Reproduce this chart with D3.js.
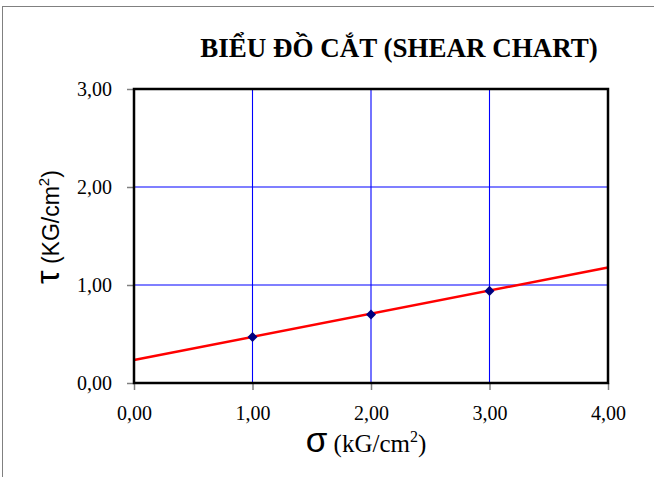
<!DOCTYPE html>
<html>
<head>
<meta charset="utf-8">
<script src="https://cdn.jsdelivr.net/npm/d3@7"></script>
<style>
  html, body { margin: 0; padding: 0; background: #fff; }
  svg { display: block; }
</style>
</head>
<body>
<svg id="chart" width="654" height="477"></svg>
<script>
// Shear test results: normal stress σ vs shear stress τ
const sigma = [1.0, 2.0, 3.0];
const tau = [0.47, 0.70, 0.94];
// Fitted Coulomb envelope τ = c + σ·tanφ
const cohesion = 0.235;
const tanPhi = 0.236;
const xTicks = [0, 1, 2, 3, 4];
const yTicks = [0, 1, 2, 3];

const svg = d3.select("#chart");
const m = { left: 134, right: 608, top: 89, bottom: 383 };

const x = d3.scaleLinear().domain([0, 4]).range([m.left, m.right]);
const y = d3.scaleLinear().domain([0, 3]).range([m.bottom, m.top]);
const fmt = d => d3.format(".2f")(d).replace(".", ",");
const SERIF = "'Liberation Serif', 'Times New Roman', serif";
const SANS = "'Liberation Sans', Arial, sans-serif";

// Outer chart frame
svg.append("rect")
  .attr("x", 2.5).attr("y", 6.5)
  .attr("width", 700).attr("height", 700)
  .attr("fill", "#fff").attr("stroke", "#808080").attr("stroke-width", 1);

// Title
svg.append("text")
  .attr("x", 399).attr("y", 57)
  .attr("text-anchor", "middle")
  .attr("font-family", SERIF)
  .attr("font-weight", "bold").attr("font-size", 27)
  .text("BIỂU ĐỒ CẮT (SHEAR CHART)");

// Grid lines
const grid = svg.append("g");
grid.selectAll("line.gx").data(xTicks.filter(d => d > 0 && d < 4)).join("line")
  .attr("class", "gx")
  .attr("x1", d => x(d)).attr("x2", d => x(d))
  .attr("y1", m.top).attr("y2", m.bottom)
  .attr("stroke", "#0000ff").attr("stroke-width", 1.1);
grid.selectAll("line.gy").data(yTicks.filter(d => d > 0 && d < 3)).join("line")
  .attr("class", "gy")
  .attr("x1", m.left).attr("x2", m.right)
  .attr("y1", d => y(d)).attr("y2", d => y(d))
  .attr("stroke", "#0000ff").attr("stroke-width", 1.1);

// Axes
const xAxis = svg.append("g")
  .attr("transform", `translate(0,${m.bottom})`)
  .call(d3.axisBottom(x).tickValues(xTicks).tickFormat(fmt).tickSize(7).tickSizeOuter(0));
const yAxis = svg.append("g")
  .attr("transform", `translate(${m.left},0)`)
  .call(d3.axisLeft(y).tickValues(yTicks).tickFormat(fmt).tickSize(7).tickSizeOuter(0));
[xAxis, yAxis].forEach(a => {
  a.attr("font-family", SERIF).attr("font-size", 20);
  a.select(".domain").remove();
  a.selectAll(".tick line").attr("stroke", "#808080").attr("stroke-width", 1.5);
  a.selectAll(".tick text").attr("fill", "#000");
});
xAxis.selectAll(".tick text").attr("y", 23).attr("dy", "0.71em");
yAxis.selectAll(".tick text").attr("x", -22).attr("dy", "0.34em");

// Fitted line
const fit = [0, 4].map(s => ({ s, t: cohesion + tanPhi * s }));
svg.append("path")
  .datum(fit)
  .attr("d", d3.line().x(d => x(d.s)).y(d => y(d.t)))
  .attr("fill", "none").attr("stroke", "#ff0000").attr("stroke-width", 2.5);

// Plot frame
svg.append("rect")
  .attr("x", m.left).attr("y", m.top)
  .attr("width", m.right - m.left).attr("height", m.bottom - m.top)
  .attr("fill", "none").attr("stroke", "#000").attr("stroke-width", 2.5);

// Measured points
svg.selectAll("path.pt").data(sigma.map((s, i) => ({ s, t: tau[i] }))).join("path")
  .attr("class", "pt")
  .attr("transform", d => `translate(${x(d.s)},${y(d.t)})`)
  .attr("d", d3.symbol(d3.symbolDiamond2, 64))
  .attr("fill", "#000080");

// Axis titles
const xt = svg.append("text")
  .attr("x", 366).attr("y", 452)
  .attr("text-anchor", "middle")
  .attr("font-family", SERIF)
  .attr("font-size", 25).attr("fill", "#000");
xt.append("tspan").attr("font-family", SANS).attr("font-size", 35).text("σ");
xt.append("tspan").text(" (kG/cm");
xt.append("tspan").attr("font-size", 16).attr("dy", -10).text("2");
xt.append("tspan").attr("dy", 10).text(")");

const yt = svg.append("text")
  .attr("transform", "translate(59,227) rotate(-90)")
  .attr("text-anchor", "middle")
  .attr("font-family", SANS)
  .attr("font-size", 23).attr("fill", "#000");
yt.append("tspan").attr("font-size", 34).text("τ");
yt.append("tspan").text(" (KG/cm");
yt.append("tspan").attr("font-size", 15).attr("dy", -10).text("2");
yt.append("tspan").attr("dy", 10).text(")");
</script>
</body>
</html>
